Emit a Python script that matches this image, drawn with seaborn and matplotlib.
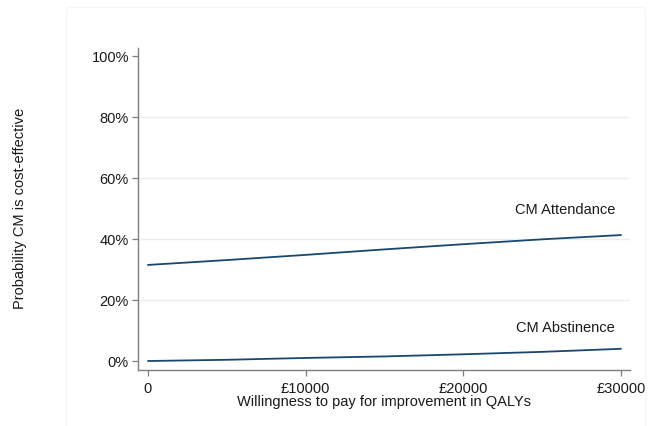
import matplotlib
matplotlib.use("Agg")
import matplotlib.pyplot as plt
from matplotlib.patches import Rectangle
from matplotlib.ticker import FixedLocator
import seaborn as sns
import pandas as pd

# ---- data ----
wtp = [0, 5000, 10000, 15000, 20000, 25000, 30000]
attendance = [31.5, 33.1, 34.8, 36.6, 38.3, 39.9, 41.3]
abstinence = [0.0, 0.4, 1.0, 1.5, 2.2, 3.0, 4.0]
series_names = ["CM Attendance", "CM Abstinence"]
x_ticks = [0, 10000, 20000, 30000]
x_ticklabels = ["0", "£10000", "£20000", "£30000"]
y_ticks = [0, 20, 40, 60, 80, 100]
y_ticklabels = ["0%", "20%", "40%", "60%", "80%", "100%"]
x_label = "Willingness to pay for improvement in QALYs"
y_label = "Probability CM is cost-effective"

df = pd.DataFrame({
    "wtp": wtp * 2,
    "prob": attendance + abstinence,
    "series": [series_names[0]] * len(wtp) + [series_names[1]] * len(wtp),
})

sns.set_theme(style="white")
plt.rcParams["font.family"] = ["Liberation Sans", "DejaVu Sans"]

navy = "#1a476f"
fs = 10.5
fig = plt.figure(figsize=(6.49, 4.26), dpi=100)
fig.patch.set_facecolor("white")
# faint graph-region border
fig.patches.append(Rectangle((66 / 649, -0.01), (645 - 66) / 649, 1 - 7 / 426 + 0.01,
                             transform=fig.transFigure, fill=False,
                             edgecolor="#f6f7f7", linewidth=1.0, zorder=0))

ax = fig.add_axes([138 / 649, 1 - 370 / 426, (630 - 138) / 649, (370 - 47.5) / 426])
ax.set_facecolor("white")

sns.lineplot(data=df, x="wtp", y="prob", hue="series",
             palette={series_names[0]: navy, series_names[1]: navy},
             linewidth=1.3, legend=False, ax=ax, zorder=3)

ax.set_xlim(-630, 30570)
ax.set_ylim(-2.95, 102.8)

# gridlines at inner ticks only
for yv in y_ticks[1:-1]:
    ax.axhline(yv, color="#e9eff1", linewidth=1.0, zorder=1)

ax.xaxis.set_major_locator(FixedLocator(x_ticks))
ax.set_xticklabels(x_ticklabels)
ax.yaxis.set_major_locator(FixedLocator(y_ticks))
ax.set_yticklabels(y_ticklabels)

for s in ["top", "right"]:
    ax.spines[s].set_visible(False)
for s in ["left", "bottom"]:
    ax.spines[s].set_color("#7f7f7f")
    ax.spines[s].set_linewidth(1.0)

ax.tick_params(axis="both", which="major", direction="out", length=4.5, width=0.9,
               color="#7f7f7f", labelsize=fs, labelcolor="#1a1a1a", pad=2,
               bottom=True, left=True)
ax.tick_params(axis="x", pad=4)

ax.set_xlabel(x_label, fontsize=fs, color="#1a1a1a")
ax.set_ylabel(y_label, fontsize=fs, color="#1a1a1a")
ax.xaxis.label.set_va("top")
ax.xaxis.set_label_coords(0.5, -0.077)
ax.yaxis.label.set_va("center")
ax.yaxis.set_label_coords(-0.24, 0.5)

# series labels
ax.text(29620, 49.5, series_names[0], ha="right", va="center", fontsize=fs, color="#1a1a1a")
ax.text(29620, 10.9, series_names[1], ha="right", va="center", fontsize=fs, color="#1a1a1a")

fig.savefig("out.png", dpi=100, facecolor="white")
